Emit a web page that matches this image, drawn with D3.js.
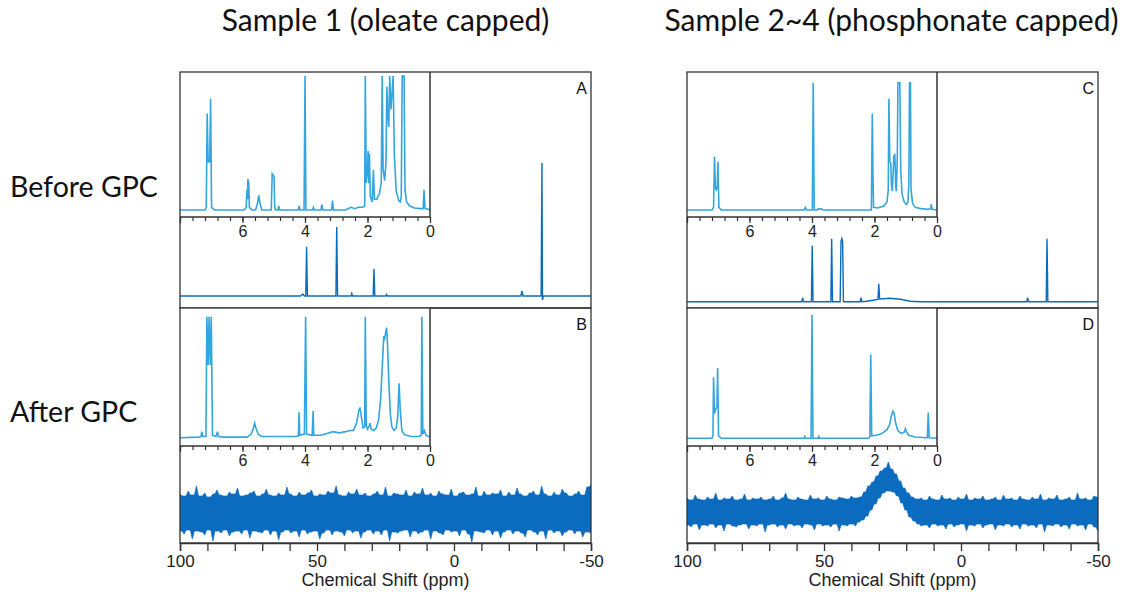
<!DOCTYPE html>
<html>
<head>
<meta charset="utf-8">
<script src="https://cdn.jsdelivr.net/npm/d3@7"></script>
<style>
  body { margin: 0; background: #fff; }
  svg { display: block; }
  .tick text { font-family: "Liberation Sans", Arial, sans-serif; }
</style>
</head>
<body>
<svg id="chart" width="1126" height="592"></svg>
<script>
// ---- data (ppm, intensity) ----
const columnTitles = ['Sample 1 (oleate capped)', 'Sample 2~4 (phosphonate capped)'];
const rowLabels = ['Before GPC', 'After GPC'];
const panelLetters = ['A', 'B', 'C', 'D'];
const mainTickValues = [100, 90, 80, 70, 60, 50, 40, 30, 20, 10, 0, -10, -20, -30, -40, -50];
const mainTickLabels = [100, 50, 0, -50];
const insetTickLabels = [6, 4, 2, 0];

// main spectra (before GPC), intensity in arbitrary units
const mainA = [[100,0],[56,0],[55.2,2],[54.6,0],[54.1,0],[53.8,49],[53.5,0],
  [43.1,0],[42.8,69],[42.5,0],[37.6,0],[37.3,2.5],[37,0],[29.5,0],[29.2,27],[28.9,0],
  [24.9,0],[24.6,1.5],[24.3,0],[-24.4,0],[-24.8,5],[-25.2,0],[-31.8,0],[-32.1,133],[-32.3,-4],[-32.6,0],[-50,0]];
const mainC = [[100,0],[58.1,0],[57.8,4],[57.5,0],[54.6,0],[54.3,56],[54,0],[47.5,0],[47.2,63],[46.9,0],
  [44.1,0],[43.8,60],[43.5,63],[43.2,60],[42.9,0],[36.8,0],[36.5,4],[36.2,0],[34.5,0.5],[31,2],[30.3,2.5],
  [30,18],[29.7,2.8],[26,3.5],[22,2.5],[18.5,0.5],[15,0],[-24,0],[-24.3,4],[-24.6,0],[-31.1,0],[-31.4,63],[-31.7,0],[-50,0]];

// main spectra (after GPC): noise envelope, one value every 1.5 ppm from 100 to -50
const noiseHiB = [19,17,22,18,27,17,20,16,19,23,18,17,21,19,25,17,18,20,22,17,
  19,24,18,17,20,18,26,19,17,21,18,20,23,17,19,18,22,20,27,18,
  17,21,19,24,18,20,17,19,22,18,26,17,20,19,18,23,17,21,19,25,
  18,20,17,22,19,18,24,17,20,21,18,19,26,17,22,18,20,19,23,17,
  21,18,25,19,17,20,22,18,27,19,17,21,18,24,20,17,19,22,18,26,28];
const noiseLoB = [-18,-21,-17,-26,-18,-19,-22,-17,-28,-18,-20,-17,-23,-19,-18,-21,-17,-25,-18,-19,
  -20,-17,-22,-18,-27,-19,-17,-20,-18,-24,-17,-21,-19,-18,-26,-20,-17,-22,-18,-19,
  -23,-17,-20,-18,-25,-19,-17,-21,-18,-22,-17,-28,-19,-20,-18,-17,-24,-18,-21,-19,
  -17,-26,-18,-20,-22,-17,-19,-18,-23,-17,-21,-29,-18,-19,-20,-17,-22,-18,-25,-19,
  -17,-21,-18,-20,-24,-17,-19,-22,-18,-26,-17,-20,-18,-23,-19,-17,-21,-18,-24,-19,-20];
const noiseHiD = [14,12,17,13,12,15,13,19,12,14,13,16,12,13,18,12,14,13,15,12,
  13,16,12,14,19,13,12,15,13,12,17,13,14,12,16,13,12,15,14,13,
  16,14,15,20,26,30,36,41,44,50,43,38,31,24,19,15,13,14,12,16,
  13,12,17,13,14,12,15,13,18,12,14,13,16,12,13,15,12,17,13,14,
  12,16,13,12,15,13,18,12,14,13,17,12,13,15,12,19,13,14,12,16,15];
const noiseLoD = [-13,-15,-12,-18,-13,-14,-12,-16,-13,-19,-12,-14,-15,-13,-12,-17,-13,-14,-12,-20,
  -13,-12,-15,-13,-17,-12,-14,-13,-16,-12,-13,-18,-12,-14,-13,-15,-12,-19,-13,-14,
  -12,-14,-10,-8,-4,2,8,14,19,21,20,16,9,2,-5,-9,-12,-14,-13,-16,
  -12,-14,-13,-17,-12,-15,-13,-12,-19,-13,-14,-12,-16,-13,-12,-18,-13,-14,-12,-15,
  -13,-17,-12,-14,-13,-16,-12,-20,-13,-14,-12,-15,-13,-17,-12,-14,-13,-18,-12,-15,-19];

// insets (1H), intensity 0-100 (100 = off scale)
const insetA = [[8,0],[7.2,0],[7.16,2],[7.13,72],[7.10,36],[7.05,36],[7.02,83],[6.99,2],[6.9,0],
  [5.95,0],[5.88,2],[5.86,15],[5.84,8],[5.83,23],[5.80,20],[5.78,2],[5.7,0],
  [5.58,0],[5.52,5],[5.48,11],[5.44,5],[5.38,0],[5.08,0],[5.05,27],[5.02,26],[4.99,25],[4.97,2],[4.94,0],
  [4.87,0],[4.84,3],[4.81,0],[4.22,0],[4.19,3],[4.16,0],[4.03,0],[4.0,100],[3.97,0],
  [3.76,0],[3.73,2],[3.70,0],[3.49,0],[3.46,4],[3.43,0],[3.15,0],[3.12,7],[3.09,0],
  [2.7,0],[2.53,2],[2.4,1],[2.3,2],[2.15,2],[2.09,3],[2.07,100],[2.04,20],[2.0,30],[1.98,44],[1.96,20],
  [1.94,42],[1.91,10],[1.85,6],[1.81,30],[1.78,8],[1.70,8],[1.67,10],[1.62,12],[1.56,20],[1.53,100],
  [1.50,30],[1.45,22],[1.41,35],[1.38,92],[1.35,70],[1.32,62],[1.29,100],[1.25,75],[1.18,100],[1.14,40],
  [1.08,14],[1.0,7],[0.95,6],[0.92,10],[0.89,100],[0.83,100],[0.80,15],[0.75,6],[0.65,3],[0.5,1.5],
  [0.3,1],[0.22,1],[0.19,15],[0.16,1],[0.05,0.5],[0,0]];
const insetB = [[8,0],[7.4,0.5],[7.33,1],[7.30,5],[7.27,1],[7.17,1],[7.14,100],[7.10,60],[7.07,100],[7.03,60],
  [7.0,100],[6.96,2],[6.85,1],[6.80,5],[6.77,1],[6.6,0.5],[5.85,0.5],[5.72,3],[5.65,8],[5.61,12],[5.57,8],
  [5.5,3],[5.4,1],[4.3,1],[4.21,1.5],[4.19,21],[4.17,2],[4.02,3],[3.98,100],[3.95,3],[3.77,2],[3.74,22],
  [3.72,2],[3.5,2],[3.3,3.5],[3.1,5],[2.9,4],[2.7,5],[2.56,6],[2.45,6],[2.35,12],[2.28,22],[2.24,25],
  [2.2,18],[2.14,8],[2.09,9],[2.07,100],[2.04,10],[2.0,7],[1.94,10],[1.92,12],[1.88,7],[1.8,6],[1.72,8],
  [1.65,14],[1.58,32],[1.52,62],[1.48,84],[1.45,82],[1.41,88],[1.39,91],[1.36,78],[1.32,48],[1.27,20],
  [1.22,9],[1.15,6],[1.08,8],[1.03,18],[0.99,45],[0.95,22],[0.9,6],[0.82,2.5],[0.6,1],[0.35,1],[0.28,2],
  [0.26,100],[0.23,3],[0.18,6],[0.13,2],[0.05,1],[0,1]];
const insetC = [[8,0],[7.2,0],[7.15,2],[7.12,40],[7.09,16],[7.06,15],[7.03,18],[7.01,36],[6.98,2],[6.9,0],
  [4.25,0],[4.21,2],[4.18,0],[3.99,0],[3.96,95],[3.93,0],[3.83,0],[3.8,1],[3.75,0.5],[3.7,1],[3.65,0],
  [2.1,0],[2.07,72],[2.05,28],[2.03,2],[1.9,1.5],[1.7,3],[1.6,6],[1.56,15],[1.54,83],[1.51,36],[1.48,35],
  [1.46,20],[1.43,14],[1.40,30],[1.38,40],[1.35,42],[1.32,17],[1.30,14],[1.27,40],[1.25,95],[1.19,95],
  [1.16,30],[1.12,12],[1.05,6],[0.98,4],[0.93,6],[0.9,20],[0.88,95],[0.85,95],[0.83,15],[0.78,5],[0.7,2],
  [0.5,1],[0.3,0.5],[0.2,1],[0.18,4.5],[0.16,0.5],[0,0]];
const insetD = [[8,0],[7.2,0],[7.17,2],[7.15,49.5],[7.12,20],[7.08,24],[7.04,25],[7.02,57],[6.99,2],[6.9,0],
  [4.26,0],[4.23,1.5],[4.2,0],[4.03,0],[4.0,100],[3.97,0],[3.8,0],[3.78,1.5],[3.75,0],
  [2.2,0],[2.15,1],[2.12,68],[2.09,2],[1.95,2.5],[1.8,3.5],[1.7,5],[1.6,7],[1.52,11],[1.46,18],[1.41,22],
  [1.37,20],[1.32,12],[1.25,6],[1.15,4],[1.05,5],[1.01,8],[0.97,5],[0.9,2.5],[0.7,1],[0.35,0.5],[0.31,0.5],
  [0.28,21],[0.25,0.5],[0,0]];

// ---- layout ----
const mainColor = '#0b6cbf';
const insetColor = '#34a6de';
const frameColor = '#333';
const cols = [{x0: 180, x1: 591}, {x0: 687, x1: 1098}];
const rows = [{y0: 72, y1: 308, axis: 217}, {y0: 308, y1: 543, axis: 446}];
const noiseStep = 1.5;
const noisePpm = d3.range(noiseHiB.length).map(i => 100 - noiseStep * i);

const panels = [
  {col: 0, row: 0, letter: 'A', main: mainA, base: 296, inset: insetA, iBase: 210, iTop: 76},
  {col: 0, row: 1, letter: 'B', hi: noiseHiB, lo: noiseLoB, base: 513, inset: insetB, iBase: 437.7, iTop: 316.7},
  {col: 1, row: 0, letter: 'C', main: mainC, base: 301.7, inset: insetC, iBase: 210, iTop: 76},
  {col: 1, row: 1, letter: 'D', hi: noiseHiD, lo: noiseLoD, base: 512, inset: insetD, iBase: 438.3, iTop: 315}
];

// noise band outline: each sample is a spike, dropping to the lower neighbour in between
function bandPoints(hi, lo) {
  const pts = [];
  hi.forEach((h, i) => {
    pts.push([noisePpm[i], lo[i], h]);
    if (i < hi.length - 1) {
      pts.push([noisePpm[i] - noiseStep / 2, Math.max(lo[i], lo[i + 1]), Math.min(h, hi[i + 1])]);
    }
  });
  return pts;
}

const svg = d3.select('#chart');
const defs = svg.append('defs');

// column titles and row labels
svg.selectAll('.col-title')
  .data(columnTitles)
  .enter().append('text')
  .attr('class', 'col-title')
  .attr('x', (d, i) => (cols[i].x0 + cols[i].x1) / 2 + (i === 1 ? -1 : 0))
  .attr('y', 31)
  .attr('text-anchor', 'middle')
  .attr('font-family', 'Lato, "Open Sans", sans-serif')
  .attr('font-size', 30)
  .attr('fill', '#111')
  .text(d => d);

svg.selectAll('.row-label')
  .data(rowLabels)
  .enter().append('text')
  .attr('class', 'row-label')
  .attr('x', 10)
  .attr('y', (d, i) => i === 0 ? 197 : 422)
  .attr('font-family', 'Lato, "Open Sans", sans-serif')
  .attr('font-size', 28.5)
  .attr('fill', '#111')
  .text(d => d);

panels.forEach((p, k) => {
  const c = cols[p.col], r = rows[p.row];
  const g = svg.append('g');

  const x = d3.scaleLinear().domain([100, -50]).range([c.x0, c.x1]);
  const y = d3.scaleLinear().domain([0, 100]).range([p.base, p.base - 100]);

  const clipId = 'clip' + k;
  defs.append('clipPath').attr('id', clipId)
    .append('rect').attr('x', c.x0).attr('y', r.y0).attr('width', c.x1 - c.x0).attr('height', r.y1 - r.y0);

  const plot = g.append('g').attr('clip-path', `url(#${clipId})`);

  if (p.main) {
    plot.append('path')
      .datum(p.main)
      .attr('fill', 'none')
      .attr('stroke', mainColor)
      .attr('stroke-width', 1.4)
      .attr('d', d3.line().x(d => x(d[0])).y(d => y(d[1])));
  } else {
    plot.append('path')
      .datum(bandPoints(p.hi, p.lo))
      .attr('fill', mainColor)
      .attr('stroke', mainColor)
      .attr('stroke-width', 0.7)
      .attr('stroke-linejoin', 'miter')
      .attr('d', d3.area().x(d => x(d[0])).y0(d => y(d[1])).y1(d => y(d[2])));
  }

  // inset
  const ix1 = c.x0 + 250;
  const ix = d3.scaleLinear().domain([8, 0]).range([c.x0, ix1]);
  const iy = d3.scaleLinear().domain([0, 100]).range([p.iBase, p.iTop]);

  g.append('rect')
    .attr('x', c.x0).attr('y', r.y0)
    .attr('width', ix1 - c.x0).attr('height', r.axis - r.y0)
    .attr('fill', '#fff');

  const iclipId = 'iclip' + k;
  defs.append('clipPath').attr('id', iclipId)
    .append('rect').attr('x', c.x0).attr('y', r.y0).attr('width', ix1 - c.x0).attr('height', r.axis - r.y0);

  g.append('g').attr('clip-path', `url(#${iclipId})`)
    .append('path')
    .datum(p.inset)
    .attr('fill', 'none')
    .attr('stroke', insetColor)
    .attr('stroke-width', 1.6)
    .attr('d', d3.line().x(d => ix(d[0])).y(d => iy(d[1])));

  // inset axis: minor ticks every 0.4 ppm, labels every 2 ppm
  const minor = d3.range(0, 21).map(i => +(i * 0.4).toFixed(1));
  const iaxis = g.append('g')
    .attr('transform', `translate(0,${r.axis})`)
    .call(d3.axisBottom(ix).tickValues(minor).tickSize(4).tickFormat(''));
  iaxis.select('.domain').remove();
  iaxis.selectAll('line').attr('stroke', frameColor).attr('stroke-width', 1.2);

  const imajor = g.append('g')
    .attr('transform', `translate(0,${r.axis})`)
    .call(d3.axisBottom(ix).tickValues(insetTickLabels.concat([8])).tickSize(6).tickPadding(3)
      .tickFormat(d => insetTickLabels.includes(d) ? String(d) : ''));
  imajor.select('.domain').remove();
  imajor.selectAll('line').attr('stroke', frameColor).attr('stroke-width', 1.2);
  imajor.selectAll('text').attr('font-size', 16).attr('fill', '#222');

  g.append('path')
    .attr('d', `M${c.x0},${r.axis}H${ix1}V${r.y0}`)
    .attr('fill', 'none')
    .attr('stroke', frameColor)
    .attr('stroke-width', 1.5);

  // panel frame
  g.append('rect')
    .attr('x', c.x0).attr('y', r.y0)
    .attr('width', c.x1 - c.x0).attr('height', r.y1 - r.y0)
    .attr('fill', 'none')
    .attr('stroke', frameColor)
    .attr('stroke-width', 1.3);

  g.append('text')
    .attr('x', c.x1 - 4)
    .attr('y', r.y0 + 22)
    .attr('text-anchor', 'end')
    .attr('font-family', '"Liberation Sans", Arial, sans-serif')
    .attr('font-size', 16)
    .attr('fill', '#111')
    .text(p.letter);

  // bottom axis only on the lower row
  if (p.row === 1) {
    const ax = g.append('g')
      .attr('transform', `translate(0,${r.y1})`)
      .call(d3.axisBottom(x).tickValues(mainTickValues).tickSize(8).tickPadding(4)
        .tickFormat(d => mainTickLabels.includes(d) ? String(d) : ''));
    ax.select('.domain').attr('stroke', frameColor).attr('stroke-width', 1.5);
    ax.selectAll('line').attr('stroke', frameColor).attr('stroke-width', 1.3);
    ax.selectAll('text').attr('font-size', 17).attr('fill', '#222');

    g.append('text')
      .attr('x', (c.x0 + c.x1) / 2)
      .attr('y', 586)
      .attr('text-anchor', 'middle')
      .attr('font-family', '"Liberation Sans", Arial, sans-serif')
      .attr('font-size', 18)
      .attr('fill', '#222')
      .text('Chemical Shift (ppm)');
  }
});
</script>
</body>
</html>
